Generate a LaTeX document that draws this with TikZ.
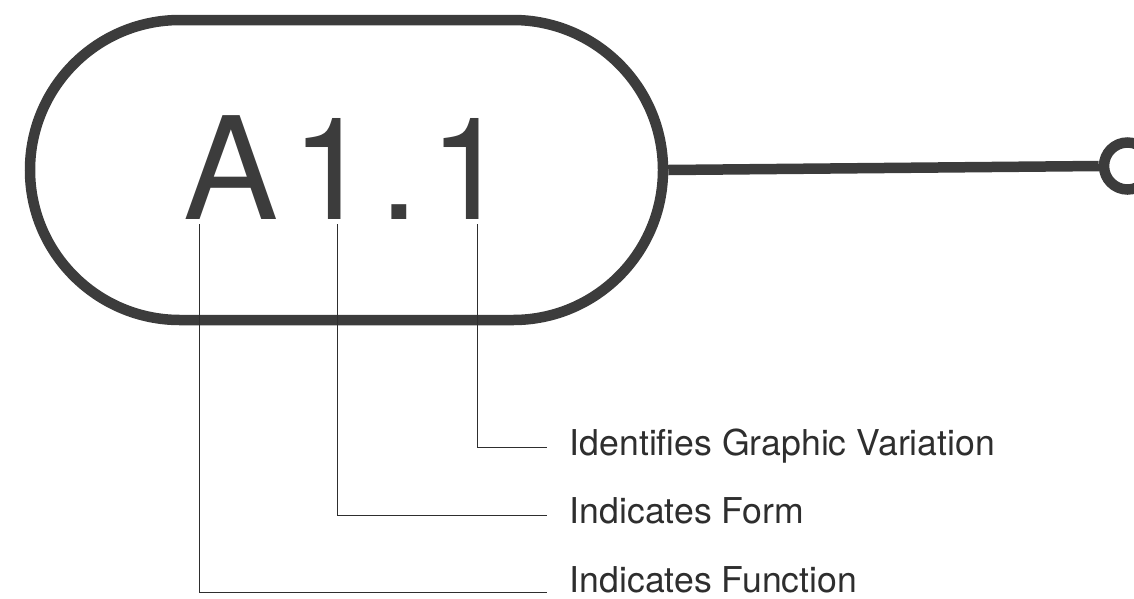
\documentclass[tikz,border=0pt]{standalone}
\usepackage{fontspec}
\setmainfont{TeX Gyre Heros}
\usetikzlibrary{shapes.misc}
\definecolor{ink}{HTML}{3C3C3C}
\definecolor{txt}{HTML}{2E2E2E}
\begin{document}
\begin{tikzpicture}[x=1pt,y=-1pt,
  heavy/.style={draw=ink,line width=10.5pt},
  leader/.style={draw=txt,line width=1pt},
  lbl/.style={anchor=base west,inner sep=0pt,text=txt,font=\fontsize{35.6}{40}\selectfont}]
\useasboundingbox (0,0) rectangle (1134,598);
% stadium
\node[heavy, rounded rectangle, minimum width=633pt, minimum height=300pt, inner sep=0pt] (stad) at (346.5,170) {};
% terminal circle
\node[heavy, circle, minimum size=47pt, inner sep=0pt] (circ) at (1127.5,166) {};
\draw[heavy] (stad.east) -- (circ.west);
% code text
\node[anchor=base west, inner sep=0pt, text=ink, font=\fontsize{142.5}{150}\selectfont] (code) at (183,219) {A\kern13.2pt 1\kern9.2pt .\kern10.5pt 1};
% leader start points
\coordinate (ta) at (199,224);
\coordinate (tf) at (337.5,224);
\coordinate (tv) at (477.5,224);
% leader end points
\coordinate (ev) at (546.5,447);
\coordinate (ef) at (546.5,515.5);
\coordinate (ea) at (546.5,592.5);
\draw[leader] (tv) |- (ev);
\draw[leader] (tf) |- (ef);
\draw[leader] (ta) |- (ea);
% labels
\node[lbl] (lv) at (569.7,455) {Identifies Graphic Variation};
\node[lbl] (lf) at (569.7,523) {Indicates Form};
\node[lbl] (lfn) at (569.7,592.5) {Indicates Function};
\end{tikzpicture}
\end{document}
